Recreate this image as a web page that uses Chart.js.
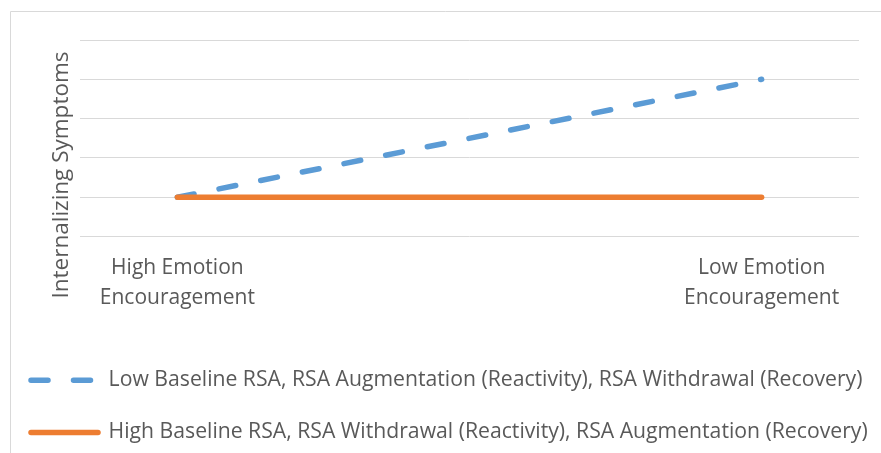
<!DOCTYPE html>
<html>
<head>
<meta charset="utf-8">
<script src="https://cdn.jsdelivr.net/npm/chart.js@4"></script>
<style>
  body { margin: 0; background: #fff; }
</style>
</head>
<body>
<canvas id="myChart" width="881" height="453"></canvas>
<script>
// categories on the x axis (each label split in two lines)
var categories = [["High Emotion", "Encouragement"], ["Low Emotion", "Encouragement"]];
// series values (y gridlines at 0..5)
var lowBaseline = [1, 4];
var highBaseline = [1, 1];
var seriesNames = [
  "Low Baseline RSA, RSA Augmentation (Reactivity), RSA Withdrawal (Recovery)",
  "High Baseline RSA, RSA Withdrawal (Reactivity), RSA Augmentation (Recovery)"
];
var yTitle = "Internalizing Symptoms";
var yTicks = [0, 1, 2, 3, 4, 5];

var fontFamily = "'Open Sans', sans-serif";
var textColor = "#595959";

function toPoints(values) {
  return values.map(function (v, i) { return { x: i, y: v }; });
}

// excel-like chart frame and the rotated axis title
var framePlugin = {
  id: "frame",
  beforeDraw: function (chart) {
    var ctx = chart.ctx;
    ctx.save();
    ctx.strokeStyle = "#d9d9d9";
    ctx.lineWidth = 1;
    ctx.beginPath();
    ctx.moveTo(10.5, chart.height);
    ctx.lineTo(10.5, 11.5);
    ctx.lineTo(chart.width, 11.5);
    ctx.stroke();
    ctx.restore();
  },
  afterDraw: function (chart) {
    var ctx = chart.ctx;
    ctx.save();
    ctx.translate(62, 175);
    ctx.rotate(-Math.PI / 2);
    ctx.font = "22.5px " + fontFamily;
    ctx.fillStyle = textColor;
    ctx.textAlign = "center";
    ctx.textBaseline = "middle";
    ctx.fillText(yTitle, 0, 0);
    ctx.restore();
  }
};

var ctx = document.getElementById("myChart").getContext("2d");
var chart = new Chart(ctx, {
  type: "line",
  data: {
    datasets: [{
      label: seriesNames[0],
      data: toPoints(lowBaseline),
      borderColor: "#5b9bd5",
      backgroundColor: "#5b9bd5",
      borderWidth: 5.5,
      borderDash: [17, 25.5],
      borderCapStyle: "round",
      pointRadius: 0,
      order: 2
    }, {
      label: seriesNames[1],
      data: toPoints(highBaseline),
      borderColor: "#ed7d31",
      backgroundColor: "#ed7d31",
      borderWidth: 5.5,
      borderCapStyle: "round",
      pointRadius: 0,
      order: 1
    }]
  },
  options: {
    responsive: false,
    animation: false,
    layout: { padding: { top: 40, right: 0, left: 0, bottom: 0 } },
    scales: {
      x: {
        type: "linear",
        min: -1 / 6,
        max: 7 / 6,
        grid: { display: false },
        border: { display: false },
        afterBuildTicks: function (scale) {
          scale.ticks = categories.map(function (c, i) { return { value: i }; });
        },
        afterFit: function (scale) { scale.height = 102; },
        ticks: {
          autoSkip: false,
          maxRotation: 0,
          padding: 8,
          color: textColor,
          font: { family: fontFamily, size: 21, lineHeight: 30 / 21 },
          callback: function (v) { return categories[v]; }
        }
      },
      y: {
        min: yTicks[0],
        max: yTicks[yTicks.length - 1],
        afterFit: function (scale) { scale.width = 80; },
        grid: { color: "#d9d9d9", lineWidth: 1, drawTicks: false },
        border: { display: false },
        ticks: { display: false, stepSize: 1 }
      },
      // empty right axis, only keeps the plot away from the right edge
      yRight: {
        position: "right",
        min: yTicks[0],
        max: yTicks[yTicks.length - 1],
        afterFit: function (scale) { scale.width = 22; },
        grid: { display: false },
        border: { display: false },
        ticks: { display: false }
      }
    },
    plugins: {
      tooltip: { enabled: false },
      legend: {
        position: "bottom",
        align: "start",
        labels: {
          usePointStyle: true,
          pointStyle: "line",
          pointStyleWidth: 67,
          padding: 31,
          color: textColor,
          font: { family: fontFamily, size: 21.2 },
          sort: function (a, b) { return a.datasetIndex - b.datasetIndex; },
          generateLabels: function (chart) {
            var items = Chart.defaults.plugins.legend.labels.generateLabels(chart);
            items.forEach(function (item) {
              var ds = chart.data.datasets[item.datasetIndex];
              item.lineDash = ds.borderDash || [];
              item.lineCap = ds.borderCapStyle;
              item.lineWidth = ds.borderWidth;
            });
            return items;
          }
        }
      }
    }
  },
  plugins: [framePlugin]
});
</script>
</body>
</html>
